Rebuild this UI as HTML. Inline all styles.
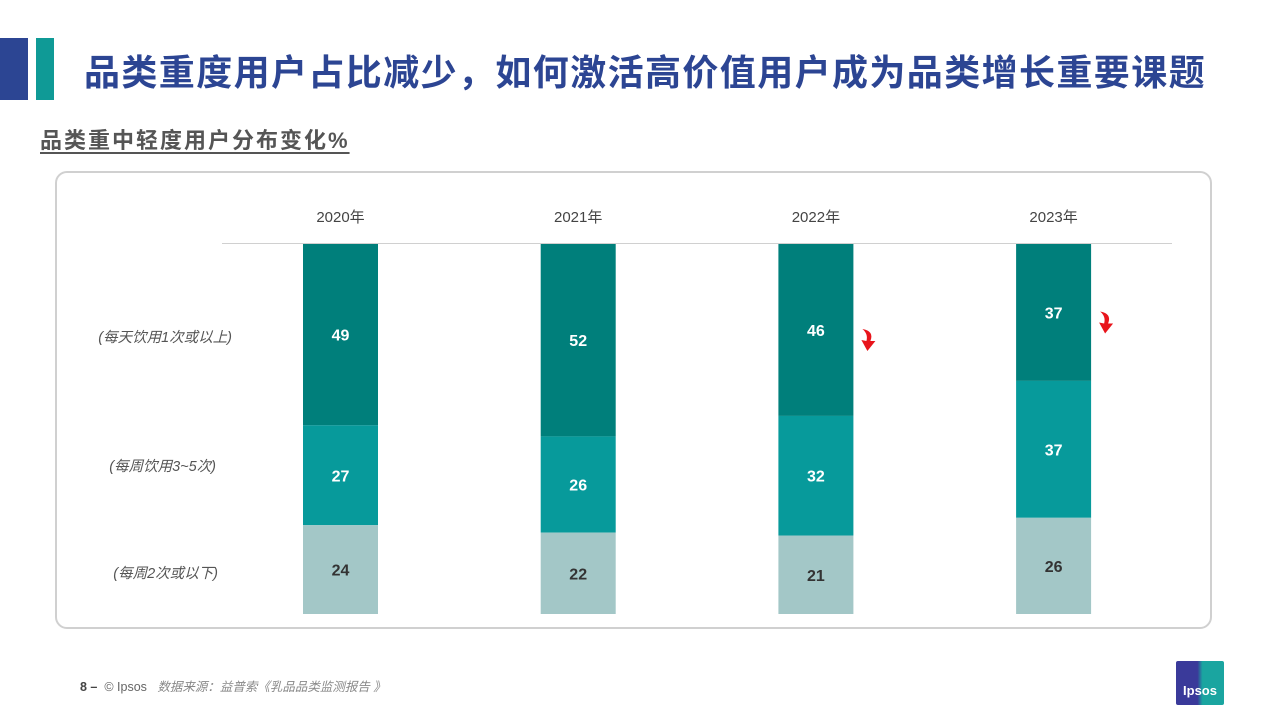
<!DOCTYPE html>
<html><head><meta charset="utf-8"><style>
body{margin:0;width:1280px;height:719px;background:#fff;overflow:hidden;position:relative;font-family:"Liberation Sans","Noto Sans CJK SC",sans-serif}
.abs{position:absolute}
</style></head><body>
<div class="abs" style="left:0;top:38px;width:28px;height:62px;background:#2c4593"></div>
<div class="abs" style="left:36px;top:38px;width:18px;height:62px;background:#0f9a96"></div>
<div class="abs" style="left:84px;top:44px;font-size:36px;font-weight:bold;color:#2c4593;white-space:nowrap;letter-spacing:1.4px">品类重度用户占比减少，如何激活高价值用户成为品类增长重要课题</div>
<div class="abs" style="left:40px;top:123px;font-size:22px;font-weight:bold;color:#555;text-decoration:underline;text-underline-offset:4px;white-space:nowrap;letter-spacing:2px">品类重中轻度用户分布变化%</div>
<div class="abs" style="left:55px;top:171px;width:1153px;height:454px;border:2px solid #d0d0d0;border-radius:12px"></div>
<svg class="abs" style="left:0;top:0" width="1280" height="719" id="chart"></svg>
<div class="abs" style="left:80px;top:676px;font-size:12.5px;color:#666;white-space:nowrap"><b style="color:#444">8 –</b>&nbsp; © Ipsos &nbsp;&nbsp;<i style="color:#888">数据来源：益普索《乳品品类监测报告 》</i></div>
<div class="abs" style="left:1176px;top:661px;width:48px;height:44px;background:linear-gradient(90deg,#3a3a9a 45%,#1aa5a0 55%);border-radius:2px;color:#fff;font-size:13px;font-weight:bold;text-align:center;line-height:60px">Ipsos</div>
<script>
const years=["2020年","2021年","2022年","2023年"];
const heavy=[49,52,46,37];
const medium=[27,26,32,37];
const light=[24,22,21,26];
const rowLabels=["(每天饮用1次或以上)","(每周饮用3~5次)","(每周2次或以下)"];
const declineFlags=[false,false,true,true];
const svg=document.getElementById('chart');
const NS='http://www.w3.org/2000/svg';
const top0=244,bottom0=614;
const x=i=>303+i*237.7;
const bw=75;
function mk(t,a){const e=document.createElementNS(NS,t);for(const k in a)e.setAttribute(k,a[k]);svg.appendChild(e);return e;}
const ax=mk('line',{x1:222,x2:1172,y1:243.5,y2:243.5,stroke:'#d0d0d0','stroke-width':1});


const series=[[heavy,'#007f7b','#fff','heavy'],[medium,'#079a9b','#fff','medium'],[light,'#a3c7c7','#333','light']];
years.forEach((yr,i)=>{
  const total=heavy[i]+medium[i]+light[i];
  const y=v=>top0+(bottom0-top0)*v/total;
  const t=mk('text',{x:x(i)+bw/2,y:222,'text-anchor':'middle','font-size':15,fill:'#444'});
  t.textContent=yr;
  
  
  let cum=0;
  series.forEach(([arr,col,tc,nm])=>{
    const v=arr[i];
    const r=mk('rect',{x:x(i),y:y(cum),width:bw,height:y(cum+v)-y(cum),fill:col});
    
    
    const l=mk('text',{x:x(i)+bw/2,y:(y(cum)+y(cum+v))/2+6,'text-anchor':'middle','font-size':16,'font-weight':'bold',fill:tc});
    l.textContent=v;
    
    
    cum+=v;
  });
  if(declineFlags[i]){
    const ay=(y(0)+y(heavy[i]))/2+9;
    const a=mk('path',{d:`M${x(i)+84} ${ay-10} Q${x(i)+96} ${ay-8} ${x(i)+92} ${ay+2} L${x(i)+97} ${ay+2} L${x(i)+89} ${ay+12} L${x(i)+83} ${ay+1} L${x(i)+88} ${ay+2} Q${x(i)+90} ${ay-5} ${x(i)+84} ${ay-10}Z`,fill:'#e8141b'});
    
    
  }
});
const ly=[337,466,573];
rowLabels.forEach((s,k)=>{
  const t=mk('text',{x:k==0?232:k==1?216:218,y:ly[k]+5,'text-anchor':'end','font-size':14.5,'font-style':'italic',fill:'#555'});
  t.textContent=s;
  
  
});
</script>
</body></html>
